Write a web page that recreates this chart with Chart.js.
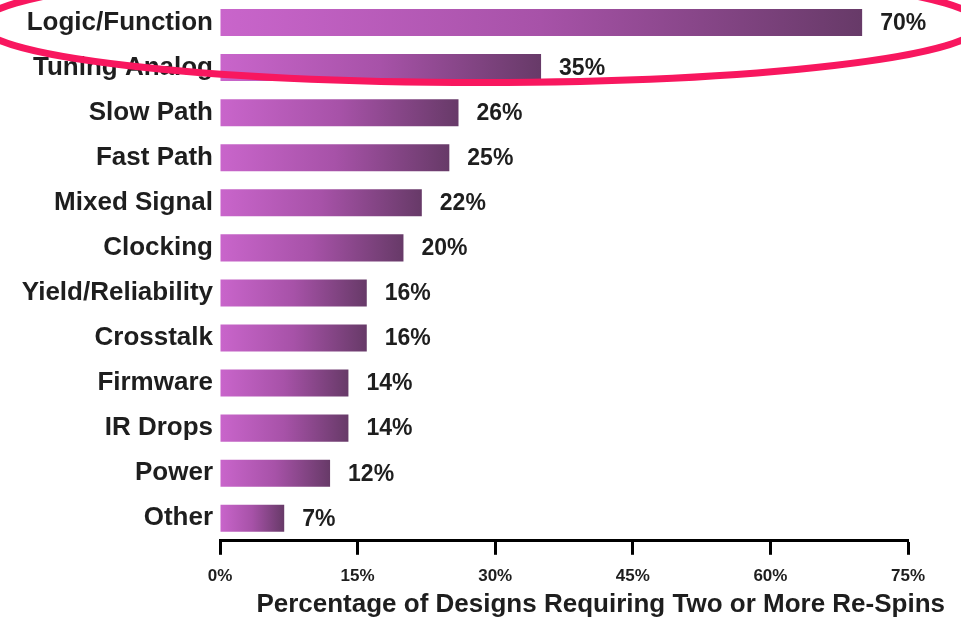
<!DOCTYPE html>
<html>
<head>
<meta charset="utf-8">
<script src="https://cdn.jsdelivr.net/npm/chart.js@4/dist/chart.umd.min.js"></script>
<style>
  html, body { margin: 0; padding: 0; background: #ffffff; }
  #wrap { width: 961px; height: 621px; position: relative; }
</style>
</head>
<body>
<div id="wrap"><canvas id="c" width="961" height="621"></canvas></div>
<script>
const categories = ["Logic/Function", "Tuning Analog", "Slow Path", "Fast Path", "Mixed Signal",
  "Clocking", "Yield/Reliability", "Crosstalk", "Firmware", "IR Drops", "Power", "Other"];
const values = [70, 35, 26, 25, 22, 20, 16, 16, 14, 14, 12, 7];
const xTicks = [0, 15, 30, 45, 60, 75];
const axisTitle = "Percentage of Designs Requiring Two or More Re-Spins";

function barGradient(ctx) {
  const chart = ctx.chart;
  const area = chart.chartArea;
  if (!area || ctx.type !== 'data') return '#a44ea6';
  const xs = chart.scales.x;
  const x0 = xs.getPixelForValue(0);
  const x1 = xs.getPixelForValue(ctx.raw);
  const g = chart.ctx.createLinearGradient(x0, 0, x1, 0);
  g.addColorStop(0, '#c965cb');
  g.addColorStop(0.5, '#a752a8');
  g.addColorStop(1, '#673a68');
  return g;
}

const valueLabels = {
  id: 'valueLabels',
  afterDatasetsDraw(chart) {
    const c = chart.ctx;
    const meta = chart.getDatasetMeta(0);
    c.save();
    c.font = 'bold 23px "Liberation Sans", Arial, sans-serif';
    c.fillStyle = '#1e1e1e';
    c.textAlign = 'left';
    c.textBaseline = 'middle';
    meta.data.forEach((bar, i) => {
      c.fillText(values[i] + '%', bar.x + 18, bar.y + 1);
    });
    c.restore();
  }
};

const highlight = {
  id: 'highlight',
  afterDraw(chart) {
    const c = chart.ctx;
    const ys = chart.scales.y;
    const cy = ys.getPixelForValue(0) + 2;
    c.save();
    c.strokeStyle = '#f8175f';
    c.lineWidth = 7;
    c.beginPath();
    c.ellipse(chart.width / 2, cy, 500, 58, 0, 0, Math.PI * 2);
    c.stroke();
    c.restore();
  }
};

new Chart(document.getElementById('c'), {
  type: 'bar',
  data: {
    labels: categories,
    datasets: [{
      data: values,
      backgroundColor: barGradient,
      borderWidth: 0,
      barPercentage: 0.6,
      categoryPercentage: 1.0
    }]
  },
  options: {
    indexAxis: 'y',
    responsive: false,
    animation: false,
    layout: { padding: { top: 0, right: 16, bottom: 0, left: 0 } },
    plugins: {
      legend: { display: false },
      tooltip: { enabled: false },
      title: {
        display: true,
        text: axisTitle,
        position: 'bottom',
        align: 'end',
        color: '#1e1e1e',
        font: { family: '"Liberation Sans", Arial, sans-serif', size: 26, weight: 'bold' },
        padding: { top: 0, bottom: 1 }
      }
    },
    scales: {
      x: {
        min: 0,
        max: 75,
        afterBuildTicks(scale) { scale.ticks = xTicks.map(v => ({ value: v })); },
        afterFit(scale) {
          scale.height = 48;
          scale.paddingRight = 53;
        },
        ticks: {
          callback: v => v + '%',
          color: '#1e1e1e',
          font: { family: '"Liberation Sans", Arial, sans-serif', size: 17, weight: 'bold' },
          padding: 11,
          maxRotation: 0
        },
        grid: {
          drawOnChartArea: false,
          drawTicks: true,
          tickLength: 14,
          tickWidth: 3,
          color: '#000000'
        },
        border: { display: true, color: '#000000', width: 3 }
      },
      y: {
        afterFit(scale) {
          scale.width = 220;
          scale.paddingTop = 0;
          scale.paddingBottom = 0;
        },
        ticks: {
          color: '#1e1e1e',
          font: { family: '"Liberation Sans", Arial, sans-serif', size: 26, weight: 'bold' },
          padding: 7
        },
        grid: { display: false, drawTicks: false },
        border: { display: false }
      }
    }
  },
  plugins: [valueLabels, highlight]
});
</script>
</body>
</html>
